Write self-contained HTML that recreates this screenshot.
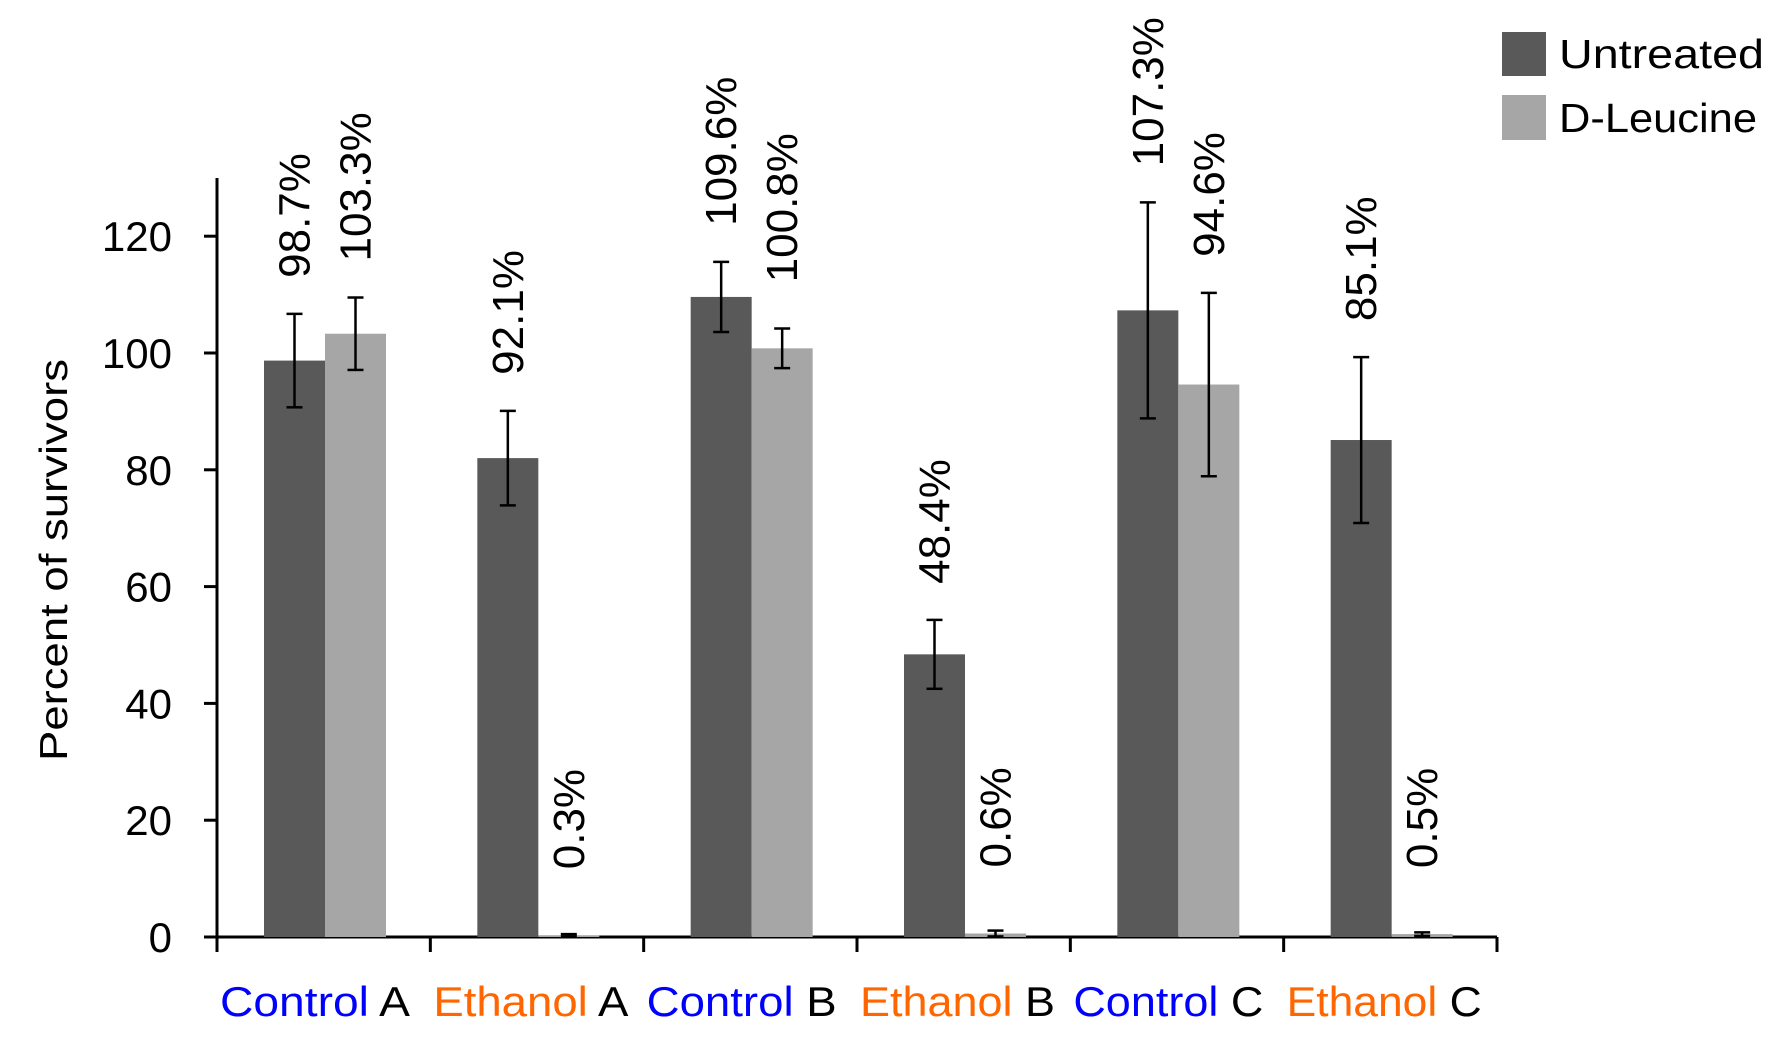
<!DOCTYPE html>
<html><head><meta charset="utf-8"><style>
html,body{margin:0;padding:0;background:#fff;}
svg{display:block;font-family:"Liberation Sans",sans-serif;}
</style></head><body>
<svg id="chart" width="1791" height="1046" viewBox="0 0 1791 1046" xmlns="http://www.w3.org/2000/svg">
<g>
<rect x="1502" y="32" width="44" height="44" fill="#595959"/>
<text x="1559" y="68" font-size="41" textLength="205" lengthAdjust="spacingAndGlyphs">Untreated</text>
<rect x="1502" y="95" width="44" height="45" fill="#a6a6a6"/>
<text x="1559" y="132" font-size="41" textLength="198" lengthAdjust="spacingAndGlyphs">D-Leucine</text>
</g>
<text transform="translate(67,560) rotate(-90)" text-anchor="middle" font-size="39" textLength="402" lengthAdjust="spacingAndGlyphs">Percent of survivors</text>
<g id="plot"></g>
</svg>
<script>
const categories = ["Control|A","Ethanol|A","Control|B","Ethanol|B","Control|C","Ethanol|C"];
const untreated = [98.7, 82.0, 109.6, 48.4, 107.3, 85.1];
const untreatedErr = [8.0, 8.1, 6.0, 5.9, 18.5, 14.2];
const dleucine = [103.3, 0.3, 100.8, 0.6, 94.6, 0.5];
const dleucineErr = [6.2, 0.2, 3.4, 0.5, 15.7, 0.3];
const untreatedLabels = ["98.7%","92.1%","109.6%","48.4%","107.3%","85.1%"];
const dleucineLabels = ["103.3%","0.3%","100.8%","0.6%","94.6%","0.5%"];
const yTicks = [0,20,40,60,80,100,120];

const NS = "http://www.w3.org/2000/svg";
const plot = document.getElementById("plot");
const x0 = 217, x1 = 1497, yZero = 937, pxPerUnit = 5.84;
const groupW = (x1 - x0) / categories.length;
const barW = 61, barOff = 47;
function yScale(v){ return yZero - v * pxPerUnit; }
function xGroup(i){ return x0 + i * groupW; }
function mk(tag, attrs){ const e = document.createElementNS(NS, tag); for (const k in attrs) e.setAttribute(k, attrs[k]); plot.appendChild(e); return e; }

let e = mk("line",{x1:x0,y1:178,x2:x0,y2:yZero,stroke:"#000","stroke-width":3});


e = mk("line",{x1:x0-13,y1:yZero,x2:x1,y2:yZero,stroke:"#000","stroke-width":3});


yTicks.forEach(t => {
  const y = yScale(t);
  let tk = mk("line",{x1:x0-13,y1:y,x2:x0,y2:y,stroke:"#000","stroke-width":3});
  
  
  let tl = mk("text",{x:172,y:y+15,"text-anchor":"end","font-size":42});
  tl.textContent = t;
  
  
});
for (let i = 0; i <= categories.length; i++) {
  const x = xGroup(i);
  let tk = mk("line",{x1:x,y1:yZero,x2:x,y2:yZero+15,stroke:"#000","stroke-width":3});
  
  
}
function errBar(cx, v, err, name){
  const g = mk("g",{});
  
  
  const yt = yScale(v + err), yb = yScale(Math.max(0, v - err));
  [[cx,yt,cx,yb],[cx-8,yt,cx+8,yt],[cx-8,yb,cx+8,yb]].forEach(c => {
    const l = document.createElementNS(NS,"line");
    l.setAttribute("x1",c[0]);l.setAttribute("y1",c[1]);l.setAttribute("x2",c[2]);l.setAttribute("y2",c[3]);
    l.setAttribute("stroke","#000");l.setAttribute("stroke-width",2.5);
    g.appendChild(l);
  });
  return yt;
}
function valueLabel(cx, ytop, txt, name){
  const y = ytop - 36;
  const t = mk("text",{transform:`translate(${cx+15},${y}) rotate(-90)`,"font-size":44});
  t.textContent = txt;
  
  
}
categories.forEach((c, i) => {
  const gx = xGroup(i);
  const xa = gx + barOff, xb = gx + barOff + barW;
  let b = mk("rect",{x:xa,y:yScale(untreated[i]),width:barW,height:untreated[i]*pxPerUnit,fill:"#595959"});
  
  
  b = mk("rect",{x:xb,y:yScale(dleucine[i]),width:barW,height:dleucine[i]*pxPerUnit,fill:"#a6a6a6"});
  
  
  const ta = errBar(xa+barW/2, untreated[i], untreatedErr[i], 'error-bar-untreated');
  const tb = errBar(xb+barW/2, dleucine[i], dleucineErr[i], 'error-bar-d-leucine');
  valueLabel(xa+barW/2, ta, untreatedLabels[i], 'value-label-untreated');
  valueLabel(xb+barW/2, Math.min(tb, yScale(dleucine[i]) - 30), dleucineLabels[i], 'value-label-d-leucine');
  const parts = c.split("|");
  const t = mk("text",{x:gx+3,y:1016,"font-size":42});
  
  
  const s1 = document.createElementNS(NS,"tspan");
  s1.setAttribute("fill", parts[0]==="Control" ? "#0000ff" : "#ff6600");
  s1.textContent = parts[0] + " ";
  const s2 = document.createElementNS(NS,"tspan");
  s2.setAttribute("fill","#000");
  s2.textContent = parts[1];
  t.appendChild(s1); t.appendChild(s2);
  t.setAttribute("textLength", parts[0]==="Control" ? 190 : 195);
  t.setAttribute("lengthAdjust","spacingAndGlyphs");
});
</script>
</body></html>
